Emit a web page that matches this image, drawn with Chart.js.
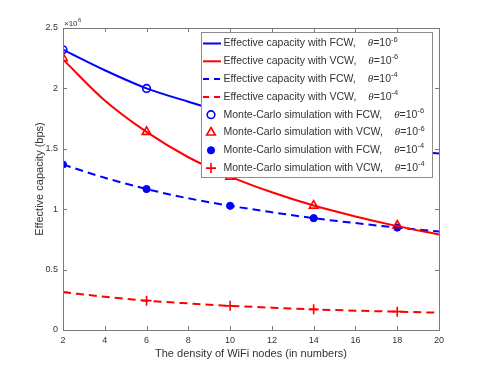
<!DOCTYPE html>
<html>
<head>
<meta charset="utf-8">
<script src="https://cdn.jsdelivr.net/npm/chart.js@4.4.1/dist/chart.umd.min.js"></script>
<style>
  body { margin: 0; background: #fff; }
  canvas { display: block; }
</style>
</head>
<body>
<canvas id="capacityChart" width="485" height="371"></canvas>
<script>
// values in units of 10^6 bps
const nodes = [2, 4, 6, 8, 10, 12, 14, 16, 18, 20];
const fcwTheta6 = [2.32, 2.15, 2.0, 1.89, 1.79, 1.71, 1.63, 1.57, 1.51, 1.46];
const vcwTheta6 = [2.24, 1.90, 1.64, 1.43, 1.27, 1.14, 1.03, 0.94, 0.86, 0.79];
const fcwTheta4 = [1.37, 1.26, 1.167, 1.09, 1.028, 0.975, 0.926, 0.885, 0.848, 0.815];
const vcwTheta4 = [0.313, 0.275, 0.243, 0.22, 0.20, 0.185, 0.171, 0.16, 0.152, 0.143];

const simNodes = [2, 6, 10, 14, 18];
const simFcw6 = [2.32, 2.0, 1.79, 1.63, 1.51];
const simVcw6 = [2.25, 1.64, 1.27, 1.03, 0.865];
const simFcw4 = [1.37, 1.167, 1.028, 0.926, 0.848];
const simVcw4 = [0.313, 0.243, 0.20, 0.171, 0.152];

const xTicks = [2, 4, 6, 8, 10, 12, 14, 16, 18, 20];
const yTicks = [0, 0.5, 1, 1.5, 2, 2.5];

const legendRows = [
    { text: "Effective capacity with FCW,", exp: "-6" },
    { text: "Effective capacity with VCW,", exp: "-6" },
    { text: "Effective capacity with FCW,", exp: "-4" },
    { text: "Effective capacity with VCW,", exp: "-4" },
    { text: "Monte-Carlo simulation with FCW,", exp: "-6" },
    { text: "Monte-Carlo simulation with VCW,", exp: "-6" },
    { text: "Monte-Carlo simulation with FCW,", exp: "-4" },
    { text: "Monte-Carlo simulation with VCW,", exp: "-4" },
];

const BLUE = "#0000ff";
const RED = "#ff0000";
const AXIS = "#7a7a7a";
const TEXT = "#333333";

const pts = (xs, ys) => xs.map((x, i) => ({ x: x, y: ys[i] }));

const lineSet = (ys, color, dashed) => ({
    data: pts(nodes, ys),
    borderColor: color,
    borderWidth: 2,
    borderDash: dashed ? [8, 5] : [],
    pointRadius: 0,
    cubicInterpolationMode: "monotone",
    fill: false,
});

const markSet = (ys, color, style, radius, filled) => ({
    data: pts(simNodes, ys),
    showLine: false,
    borderColor: color,
    backgroundColor: filled ? color : "rgba(0,0,0,0)",
    pointStyle: style,
    pointRadius: radius,
    pointBorderWidth: filled ? 1 : 1.6,
});

const datasets = [
    lineSet(fcwTheta6, BLUE, false),
    lineSet(vcwTheta6, RED, false),
    lineSet(fcwTheta4, BLUE, true),
    lineSet(vcwTheta4, RED, true),
    markSet(simFcw6, BLUE, "circle", 3.8, false),
    markSet(simVcw6, RED, "triangle", 5, false),
    markSet(simFcw4, BLUE, "circle", 3.6, true),
    markSet(simVcw4, RED, "cross", 5, false),
];

// box, inward ticks, exponent label
const framePlugin = {
    id: "frame",
    afterDraw(chart) {
        const ctx = chart.ctx;
        const a = chart.chartArea;
        const xs = chart.scales.x;
        const ys = chart.scales.y;
        ctx.save();
        ctx.strokeStyle = AXIS;
        ctx.lineWidth = 1;
        ctx.strokeRect(a.left + 0.5, a.top + 0.5, a.right - a.left, a.bottom - a.top);
        ctx.beginPath();
        xTicks.forEach((v) => {
            const px = Math.round(xs.getPixelForValue(v)) + 0.5;
            ctx.moveTo(px, a.bottom); ctx.lineTo(px, a.bottom - 4);
            ctx.moveTo(px, a.top); ctx.lineTo(px, a.top + 4);
        });
        yTicks.forEach((v) => {
            const py = Math.round(ys.getPixelForValue(v)) + 0.5;
            ctx.moveTo(a.left, py); ctx.lineTo(a.left + 4, py);
            ctx.moveTo(a.right, py); ctx.lineTo(a.right - 4, py);
        });
        ctx.stroke();

        ctx.fillStyle = TEXT;
        ctx.textBaseline = "alphabetic";
        ctx.font = '8px "Liberation Sans"';
        ctx.fillText("\u00d710", a.left + 1, a.top - 2);
        ctx.font = '6px "Liberation Sans"';
        ctx.fillText("6", a.left + 15, a.top - 6);
        ctx.restore();
    },
};

const legendPlugin = {
    id: "boxLegend",
    afterDraw(chart) {
        const ctx = chart.ctx;
        const bx = 201, by = 32, bw = 231, bh = 145;
        ctx.save();
        ctx.fillStyle = "#ffffff";
        ctx.fillRect(bx, by, bw, bh);
        ctx.strokeStyle = "#8c8c8c";
        ctx.lineWidth = 1;
        ctx.strokeRect(bx + 0.5, by + 0.5, bw, bh);

        legendRows.forEach((row, i) => {
            const y = 43.5 + i * 17.8;
            const ds = datasets[i];
            if (i < 4) {
                ctx.strokeStyle = ds.borderColor;
                ctx.lineWidth = 2;
                ctx.setLineDash(ds.borderDash.length ? [6, 5] : []);
                ctx.beginPath();
                ctx.moveTo(203, y);
                ctx.lineTo(221, y);
                ctx.stroke();
                ctx.setLineDash([]);
            } else {
                ctx.strokeStyle = ds.borderColor;
                ctx.fillStyle = ds.backgroundColor;
                ctx.lineWidth = ds.pointBorderWidth;
                Chart.helpers.drawPoint(ctx, {
                    pointStyle: ds.pointStyle,
                    rotation: 0,
                    radius: ds.pointRadius,
                    borderWidth: ds.pointBorderWidth,
                }, 211, y);
            }
            ctx.fillStyle = TEXT;
            ctx.textBaseline = "middle";
            ctx.textAlign = "left";
            let x = 223.5;
            ctx.font = '10.5px "Liberation Sans"';
            ctx.fillText(row.text, x, y);
            x += ctx.measureText(row.text).width + 12;
            ctx.font = 'italic 11px "Liberation Serif"';
            ctx.fillText("\u03b8", x, y);
            x += ctx.measureText("\u03b8").width;
            ctx.font = '10.5px "Liberation Sans"';
            ctx.fillText("=10", x, y);
            x += ctx.measureText("=10").width;
            ctx.font = '7.5px "Liberation Sans"';
            ctx.fillText(row.exp, x, y - 4);
        });
        ctx.restore();
    },
};

new Chart(document.getElementById("capacityChart").getContext("2d"), {
    type: "line",
    data: { datasets: datasets },
    options: {
        responsive: false,
        animation: false,
        devicePixelRatio: 1,
        layout: { padding: { top: 28, right: 46, left: 0, bottom: 0 } },
        plugins: {
            legend: { display: false },
            tooltip: { enabled: false },
        },
        scales: {
            x: {
                type: "linear",
                min: 2,
                max: 20,
                afterFit: (s) => { s.height = 41; },
                afterBuildTicks: (s) => { s.ticks = xTicks.map((v) => ({ value: v })); },
                grid: { display: false, drawTicks: false, tickLength: 0 },
                border: { display: false },
                ticks: { color: TEXT, font: { family: "Liberation Sans", size: 9 }, padding: 5, maxRotation: 0 },
                title: {
                    display: true,
                    text: "The density of WiFi nodes (in numbers)",
                    color: TEXT,
                    font: { family: "Liberation Sans", size: 11 },
                    padding: { top: 0, bottom: 10 },
                },
            },
            y: {
                min: 0,
                max: 2.5,
                afterFit: (s) => { s.width = 63; },
                afterBuildTicks: (s) => { s.ticks = yTicks.map((v) => ({ value: v })); },
                grid: { display: false, drawTicks: false, tickLength: 0 },
                border: { display: false },
                ticks: {
                    color: TEXT,
                    font: { family: "Liberation Sans", size: 9 },
                    padding: 5,
                    callback: (v) => String(v),
                },
                title: {
                    display: true,
                    text: "Effective capacity (bps)",
                    color: TEXT,
                    font: { family: "Liberation Sans", size: 11 },
                    padding: { top: 33, bottom: 0 },
                },
            },
        },
    },
    plugins: [framePlugin, legendPlugin],
});
</script>
</body>
</html>
